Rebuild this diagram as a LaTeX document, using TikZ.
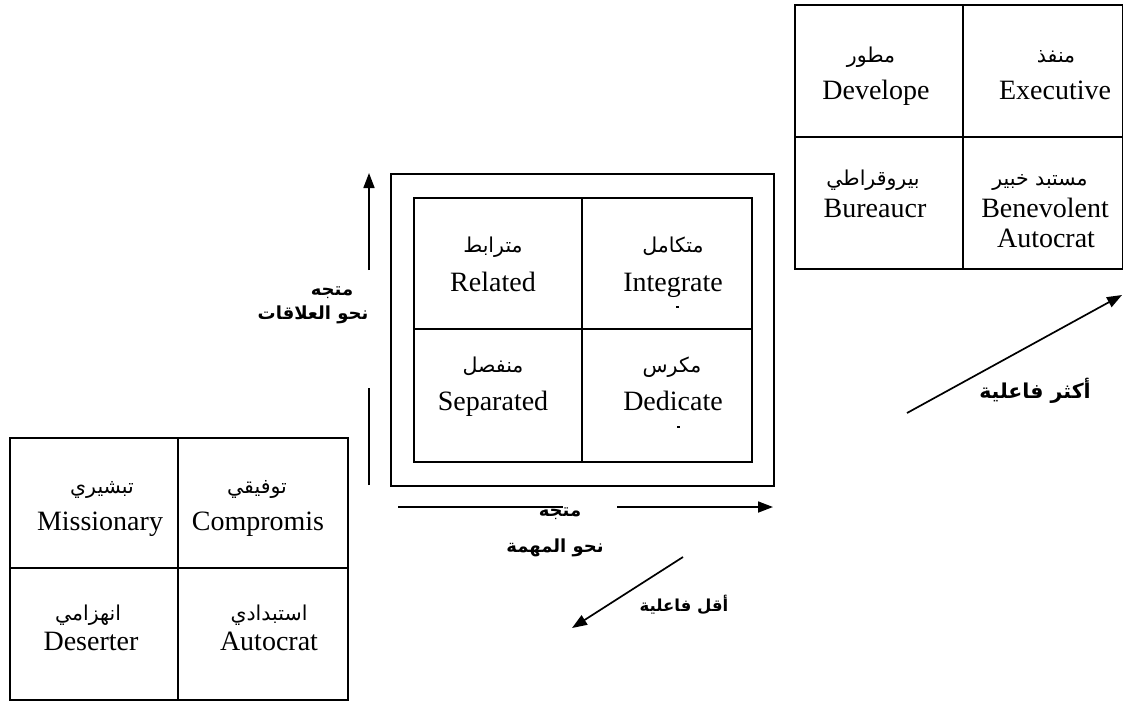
\documentclass[tikz,border=0pt]{standalone}
\usepackage{fontspec}
\setmainfont{Liberation Serif}
\newfontfamily\arabicfont[Script=Arabic]{DejaVu Sans}
\TeXXeTstate=1
\usetikzlibrary{arrows.meta}
\tikzset{
  grid/.style={draw, line width=1.7pt, inner sep=0pt, anchor=north west},
  gline/.style={line width=1.7pt},
  en/.style={font=\fontsize{28}{32}\selectfont, anchor=base, inner sep=0pt},
  ar/.style={font=\arabicfont\fontsize{20.5}{24}\selectfont, anchor=base, inner sep=0pt},
  lab/.style={font=\arabicfont\bfseries\fontsize{18}{21}\selectfont, anchor=base, inner sep=0pt},
  arr/.style={line width=1.7pt, -{Triangle[length=15pt,width=11pt]}},
  seg/.style={line width=1.7pt}
}
\begin{document}
\begin{tikzpicture}[x=1pt, y=-1pt]
\useasboundingbox (0,0) rectangle (1123,702);
% ---------- top right box
\node[grid, minimum width=328pt, minimum height=264pt] (TR) at (794,4) {};
\coordinate (TRx) at (963,0);
\coordinate (TRy) at (0,137);
\draw[gline] (TR.north -| TRx) -- (TR.south -| TRx);
\draw[gline] (TR.west |- TRy) -- (TR.east |- TRy);
\node[ar] (tr1a) at (871,62) {\beginR مطور\endR};
\node[en] (tr1e) at (876,99) {Develope};
\node[ar] (tr2a) at (1056,62) {\beginR منفذ\endR};
\node[en] (tr2e) at (1055,99) {Executive};
\node[ar] (tr3a) at (873,185) {\beginR بيروقراطي\endR};
\node[en] (tr3e) at (875,217) {Bureaucr};
\node[ar] (tr4a) at (1040,185) {\beginR مستبد خبير\endR};
\node[en] (tr4e) at (1045,217) {Benevolent};
\node[en] (tr4f) at (1046,247) {Autocrat};
% ---------- centre box
\node[grid, minimum width=383pt, minimum height=312pt] (CO) at (390,173) {};
\node[grid, minimum width=338pt, minimum height=264pt] (CI) at (413,197) {};
\coordinate (CIx) at (582,0);
\coordinate (CIy) at (0,329);
\draw[gline] (CI.north -| CIx) -- (CI.south -| CIx);
\draw[gline] (CI.west |- CIy) -- (CI.east |- CIy);
\node[ar] (c1a) at (493,252) {\beginR مترابط\endR};
\node[en] (c1e) at (493,291) {Related};
\node[ar] (c2a) at (673,252) {\beginR متكامل\endR};
\node[en] (c2e) at (673,291) {Integrate};
\node[ar] (c3a) at (493,372) {\beginR منفصل\endR};
\node[en] (c3e) at (493,410) {Separated};
\node[ar] (c4a) at (672,372) {\beginR مكرس\endR};
\node[en] (c4e) at (673,410) {Dedicate};
\fill (675.5,306) rectangle (678.5,307.5);
\fill (676.5,426) rectangle (679.5,427.5);
% ---------- bottom left box
\node[grid, minimum width=338pt, minimum height=262pt] (BL) at (9,437) {};
\coordinate (BLx) at (178,0);
\coordinate (BLy) at (0,568);
\draw[gline] (BL.north -| BLx) -- (BL.south -| BLx);
\draw[gline] (BL.west |- BLy) -- (BL.east |- BLy);
\node[ar] (b1a) at (102,493) {\beginR تبشيري\endR};
\node[en] (b1e) at (100,530) {Missionary};
\node[ar] (b2a) at (257,493) {\beginR توفيقي\endR};
\node[en] (b2e) at (258,530) {Compromis};
\node[ar] (b3a) at (88,620) {\beginR انهزامي\endR};
\node[en] (b3e) at (91,650) {Deserter};
\node[ar] (b4a) at (269,620) {\beginR استبدادي\endR};
\node[en] (b4e) at (269,650) {Autocrat};
% ---------- vertical axis
\node[lab] (vl1) at (332,295) {\beginR متجه\endR};
\node[lab] (vl2) at (313,319) {\beginR نحو العلاقات\endR};
\coordinate (v1) at (369,270);
\coordinate (v2) at (369,173);
\coordinate (v3) at (369,485);
\coordinate (v4) at (369,388);
\draw[arr] (v1) -- (v2);
\draw[seg] (v3) -- (v4);
% ---------- horizontal axis
\node[lab] (hl1) at (560,516) {\beginR متجه\endR};
\node[lab] (hl2) at (555,552) {\beginR نحو المهمة\endR};
\coordinate (h1) at (398,507);
\coordinate (h2) at (563,507);
\coordinate (h3) at (617,507);
\coordinate (h4) at (773,507);
\draw[seg] (h1) -- (h2);
\draw[arr] (h3) -- (h4);
% ---------- diagonal arrows
\coordinate (d1) at (683,557);
\coordinate (d2) at (572,628);
\draw[arr] (d1) -- (d2);
\node[lab, font=\arabicfont\bfseries\fontsize{16.5}{20}\selectfont] (dl) at (684,611) {\beginR أقل فاعلية\endR};
\coordinate (u1) at (907,413);
\coordinate (u2) at (1122,295);
\draw[arr] (u1) -- (u2);
\node[lab, font=\arabicfont\bfseries\fontsize{20.5}{24}\selectfont] (ul) at (1035,398) {\beginR أكثر فاعلية\endR};
\end{tikzpicture}
\end{document}
